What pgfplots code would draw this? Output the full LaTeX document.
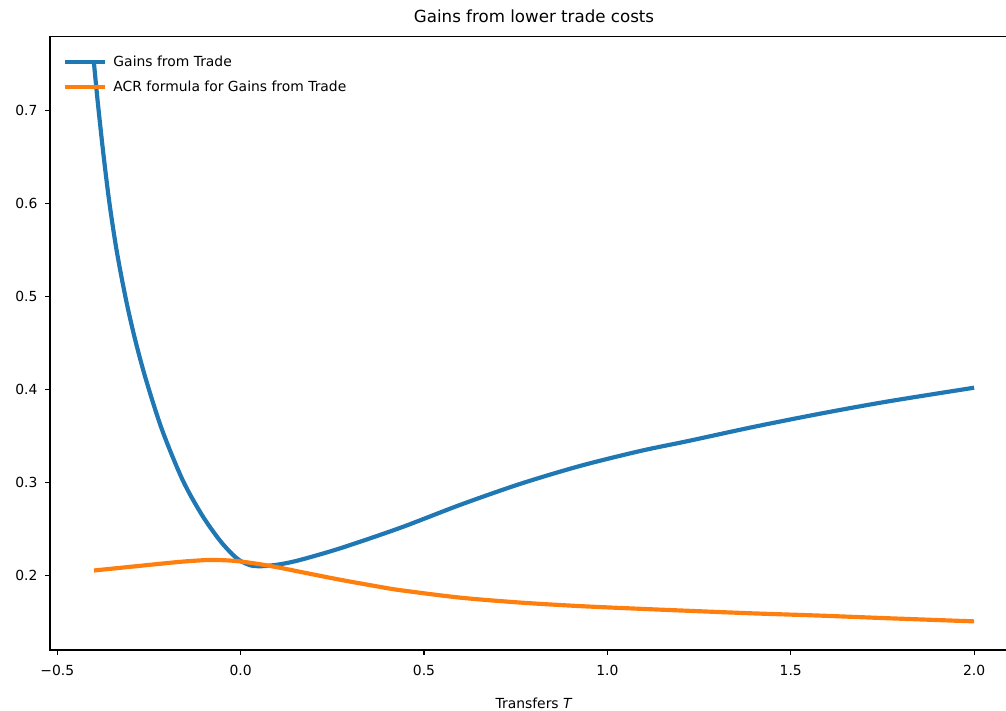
\documentclass[border=0pt]{standalone}
\usepackage{fontspec}
\setmainfont{DejaVu Sans}
\usepackage{pgfplots}
\pgfplotsset{compat=1.18}
\definecolor{mblue}{HTML}{1F77B4}
\definecolor{morange}{HTML}{FF7F0E}
\pgfplotstableread{
x y
-0.4000 0.7504
-0.3902 0.7107
-0.3755 0.6571
-0.3589 0.6034
-0.3384 0.5498
-0.3125 0.4961
-0.2875 0.4532
-0.2580 0.4103
-0.2144 0.3567
-0.1586 0.3030
-0.1061 0.2655
-0.0584 0.2386
-0.0217 0.2225
0.0031 0.2150
0.0304 0.2107
0.0627 0.2102
0.1090 0.2123
0.1635 0.2170
0.2725 0.2295
0.4360 0.2515
0.5995 0.2762
0.7629 0.2987
0.9264 0.3180
1.0899 0.3340
1.2180 0.3445
1.3978 0.3598
1.5804 0.3741
1.7629 0.3871
2.0000 0.4020
}\gains
\pgfplotstableread{
x y
-0.400 0.2055
-0.300 0.2095
-0.200 0.2135
-0.150 0.2153
-0.100 0.2166
-0.075 0.2168
-0.050 0.2166
-0.025 0.2161
0.000 0.2152
0.050 0.2124
0.109 0.2083
0.163 0.2040
0.272 0.1955
0.381 0.1878
0.436 0.1843
0.599 0.1763
0.763 0.1710
0.926 0.1672
1.090 0.1643
1.250 0.1617
1.398 0.1594
1.580 0.1570
1.763 0.1542
2.000 0.1508
}\acr
\begin{document}
\begin{tikzpicture}
\begin{axis}[
  scale only axis, width=697pt, height=442pt,
  xmin=-0.52, xmax=2.12, ymin=0.12, ymax=0.78,
  xtick={-0.5,0,0.5,1,1.5,2},
  xticklabels={−0.5,0.0,0.5,1.0,1.5,2.0},
  ytick={0.2,0.3,0.4,0.5,0.6,0.7},
  yticklabels={0.2,0.3,0.4,0.5,0.6,0.7},
  tick align=outside, tick pos=left, major tick length=3.5pt,
  every tick/.style={black, line width=0.8pt},
  axis line style={line width=0.8pt},
  ticklabel style={font=\fontsize{10}{12}\selectfont},
  xticklabel style={yshift=-4pt},
  yticklabel style={xshift=-2pt},
  title={Gains from lower trade costs},
  title style={font=\fontsize{12}{14}\selectfont},
  xlabel={Transfers \textit{T}},
  xlabel style={font=\fontsize{10}{12}\selectfont, yshift=-9pt},
  legend style={draw=none, fill=none, at={(0,1)}, anchor=north west,
    xshift=9pt, yshift=-12pt, font=\fontsize{10}{12}\selectfont,
    row sep=5pt, inner sep=0pt},
  legend cell align=left,
  legend image code/.code={\draw[#1] (0pt,0pt) -- (28.8pt,0pt); \path (31.5pt,0pt);},
]
\addplot[mblue, line width=3pt, line join=round, smooth, tension=0.5] table {\gains};
\addlegendentry{Gains from Trade}
\addplot[morange, line width=3pt, line join=round, smooth, tension=0.5] table {\acr};
\addlegendentry{ACR formula for Gains from Trade}
\end{axis}
\pgfresetboundingbox
\useasboundingbox (-36pt,-43.9pt) rectangle (688.3pt,468pt);
\end{tikzpicture}
\end{document}
